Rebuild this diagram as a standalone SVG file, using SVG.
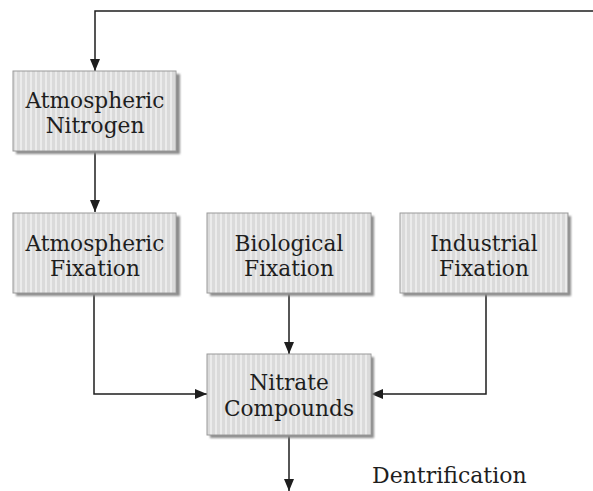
<svg xmlns="http://www.w3.org/2000/svg" width="593" height="491" viewBox="0 0 593 491">
<style>
.box{fill:url(#stripes);stroke:#9a9a9a;stroke-width:1}
.shadow{fill:#8c8c8c;filter:url(#blur)}
.lbl{font-family:"DejaVu Serif","Liberation Serif",serif;font-size:21.7px;fill:#1e1e1e;text-anchor:middle}
.conn{fill:none;stroke:#1e1e1e;stroke-width:1.5}
</style>
<defs>
<pattern id="stripes" width="5" height="10" patternUnits="userSpaceOnUse">
<rect width="5" height="10" fill="#dadada"/>
<rect x="0" width="2" height="10" fill="#ebebeb"/>
</pattern>
<filter id="blur" x="-10%" y="-10%" width="120%" height="120%"><feGaussianBlur stdDeviation="1"/></filter>
<marker id="arr" viewBox="0 0 12 10" refX="12" refY="5" markerWidth="12" markerHeight="10" markerUnits="userSpaceOnUse" orient="auto">
<path d="M0,0 L12,5 L0,10 Z" fill="#1e1e1e"/>
</marker>
</defs>
<rect width="593" height="491" fill="#ffffff"/>
<g id="connectors">
<path class="conn" d="M593,11 H95 V71" marker-end="url(#arr)"/>
<path class="conn" d="M95,151 V212" marker-end="url(#arr)"/>
<path class="conn" d="M289,292 V354" marker-end="url(#arr)"/>
<path class="conn" d="M94,292 V394 H207" marker-end="url(#arr)"/>
<path class="conn" d="M486,292 V394 H371" marker-end="url(#arr)"/>
<path class="conn" d="M289,435 V491" marker-end="url(#arr)"/>
</g>
<g id="atmospheric-nitrogen">
<rect class="shadow" x="16" y="74" width="164" height="80"/>
<rect class="box" x="13" y="71" width="163" height="80"/>
<text class="lbl" x="95" y="108">Atmospheric</text>
<text class="lbl" x="95" y="133">Nitrogen</text>
</g>
<g id="atmospheric-fixation">
<rect class="shadow" x="16" y="216" width="164" height="80"/>
<rect class="box" x="13" y="213" width="163" height="80"/>
<text class="lbl" x="95" y="251">Atmospheric</text>
<text class="lbl" x="95" y="276">Fixation</text>
</g>
<g id="biological-fixation">
<rect class="shadow" x="210" y="216" width="164" height="80"/>
<rect class="box" x="207" y="213" width="164" height="80"/>
<text class="lbl" x="289" y="251">Biological</text>
<text class="lbl" x="289" y="276">Fixation</text>
</g>
<g id="industrial-fixation">
<rect class="shadow" x="403" y="216" width="168" height="80"/>
<rect class="box" x="400" y="213" width="168" height="80"/>
<text class="lbl" x="484" y="251">Industrial</text>
<text class="lbl" x="484" y="276">Fixation</text>
</g>
<g id="nitrate-compounds">
<rect class="shadow" x="210" y="357" width="164" height="81"/>
<rect class="box" x="207" y="354" width="164" height="81"/>
<text class="lbl" x="289" y="390">Nitrate</text>
<text class="lbl" x="289" y="416">Compounds</text>
</g>
<g id="dentrification-label">
<text x="372" y="483" style="font-family:'DejaVu Serif','Liberation Serif',serif;font-size:22px;fill:#1e1e1e">Dentrification</text>
</g>
</svg>
